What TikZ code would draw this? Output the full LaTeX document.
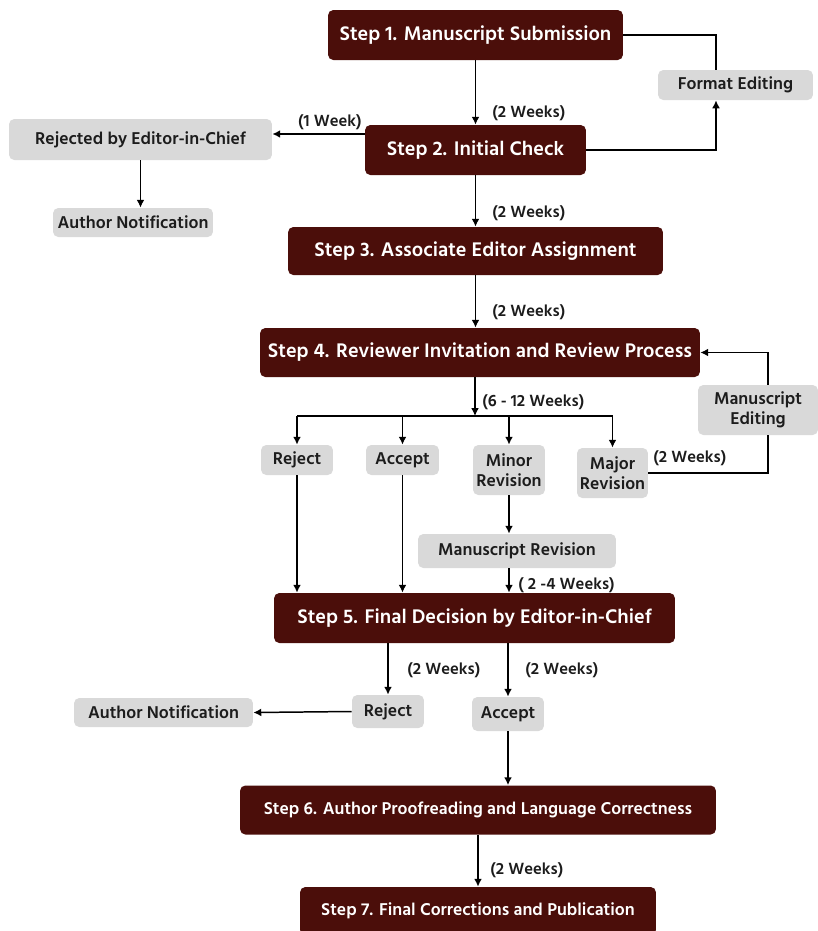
\documentclass[tikz,border=0pt]{standalone}
\usepackage{fontspec}
\setmainfont{Hind Madurai}
\usetikzlibrary{arrows.meta}
\definecolor{stepred}{RGB}{75,14,10}
\definecolor{boxgray}{RGB}{217,217,217}
\definecolor{ink}{RGB}{28,28,28}
\begin{document}
\begin{tikzpicture}[x=0.02cm,y=-0.02cm,
  stepbox/.style={fill=stepred,text=white,rounded corners=3pt,inner sep=0pt,
    font=\fontsize{11.5}{13}\selectfont\bfseries},
  stepsmall/.style={stepbox,font=\fontsize{10}{12}\selectfont\bfseries},
  graybox/.style={fill=boxgray,text=ink,rounded corners=3pt,inner sep=0pt,align=center,
    font=\fontsize{10}{11.5}\selectfont\bfseries},
  lbl/.style={anchor=west,inner sep=0pt,text=ink,font=\fontsize{9.5}{11}\selectfont\bfseries},
  arr/.style={line width=0.85pt,-{Latex[length=4.5pt,width=4.5pt]}},
  ln/.style={line width=0.85pt}]
\useasboundingbox (0,0) rectangle (818,931);

\node[stepbox,minimum width=5.9cm,minimum height=1cm] (s1) at (475.5,35) {Step 1. Manuscript Submission};
\node[stepbox,minimum width=4.42cm,minimum height=1cm] (s2) at (475.5,150) {Step 2. Initial Check};
\node[stepbox,minimum width=7.5cm,minimum height=0.96cm] (s3) at (475.5,251) {Step 3. Associate Editor Assignment};
\node[stepbox,minimum width=8.8cm,minimum height=0.98cm] (s4) at (480,352.5) {Step 4. Reviewer Invitation and Review Process};
\node[stepbox,minimum width=8.02cm,minimum height=1cm] (s5) at (474.5,618) {Step 5. Final Decision by Editor-in-Chief};
\node[stepsmall,minimum width=9.52cm,minimum height=0.98cm] (s6) at (478,810) {Step 6. Author Proofreading and Language Correctness};
\node[stepsmall,minimum width=7.12cm,minimum height=0.96cm] (s7) at (478,911) {Step 7. Final Corrections and Publication};

\node[graybox,minimum width=3.1cm,minimum height=0.6cm] (fmt) at (735.5,85) {Format Editing};
\node[graybox,minimum width=5.26cm,minimum height=0.82cm] (rejed) at (140.5,139.5) {Rejected by Editor-in-Chief};
\node[graybox,minimum width=3.2cm,minimum height=0.58cm] (notea) at (133,222.5) {Author Notification};
\node[graybox,minimum width=1.44cm,minimum height=0.6cm] (rejr) at (297,460) {Reject};
\node[graybox,minimum width=1.46cm,minimum height=0.6cm] (accr) at (402.5,460) {Accept};
\node[graybox,minimum width=1.44cm,minimum height=1cm] (minor) at (509,470) {Minor\\Revision};
\node[graybox,minimum width=1.42cm,minimum height=1cm] (major) at (612.5,473) {Major\\Revision};
\node[graybox,minimum width=2.4cm,minimum height=1cm] (medit) at (758,410) {Manuscript\\Editing};
\node[graybox,minimum width=3.96cm,minimum height=0.68cm] (mrev) at (517,551) {Manuscript Revision};
\node[graybox,minimum width=1.44cm,minimum height=0.66cm] (rejf) at (388,711.5) {Reject};
\node[graybox,minimum width=1.44cm,minimum height=0.68cm] (accf) at (508,714) {Accept};
\node[graybox,minimum width=3.58cm,minimum height=0.58cm] (noteb) at (163.5,712.5) {Author Notification};

\coordinate (fx) at (716,0);
\coordinate (mx) at (768,0);
\coordinate (jn) at (475,416);

\draw[arr] (s1) -- (s2);
\node[lbl] at (492,113) {(2 Weeks)};
\draw[ln] (s1.east) -| (fx |- fmt.north);
\draw[arr] (s2.east) -| (fx |- fmt.south);
\draw[arr] ([yshift=0.32cm]s2.west) -- ([yshift=0.32cm]s2.west -| rejed.east);
\node[lbl,anchor=east] at (362,122) {(1 Week)};
\draw[arr] (rejed.south) -- (rejed.south |- notea.north);

\draw[arr] (s2) -- (s3);
\node[lbl] at (492,213) {(2 Weeks)};
\draw[arr] (s3.south) -- (s3.south |- s4.north);
\node[lbl] at (492,312) {(2 Weeks)};

\draw[arr] (s4.south -| jn) -- (jn);
\node[lbl] at (482,402) {(6 - 12 Weeks)};
\draw[ln] (jn -| rejr) -- (jn -| major);
\foreach \n in {rejr,accr,minor,major}
  \draw[arr] (jn -| \n) -- (\n.north);

\draw[arr] (mx |- medit.north) |- (s4.east);
\draw[ln] (major.east) -| (mx |- medit.south);
\node[lbl] at (653,458) {(2 Weeks)};

\draw[arr] (rejr.south) -- (rejr.south |- s5.north);
\draw[arr] (accr.south) -- (accr.south |- s5.north);
\draw[arr] (minor.south) -- (minor.south |- mrev.north);
\draw[arr] (minor |- mrev.south) -- (minor |- s5.north);
\node[lbl] at (518,585) {( 2 -4 Weeks)};

\draw[arr] (rejf |- s5.south) -- (rejf.north);
\node[lbl] at (407,670) {(2 Weeks)};
\draw[arr] (accf |- s5.south) -- (accf.north);
\node[lbl] at (525,670) {(2 Weeks)};
\draw[arr] (rejf.west) -- (noteb.east);
\draw[arr] (accf.south) -- (accf.south |- s6.north);

\draw[arr] (s6) -- (s7);
\node[lbl] at (490,870) {(2 Weeks)};
\end{tikzpicture}
\end{document}
